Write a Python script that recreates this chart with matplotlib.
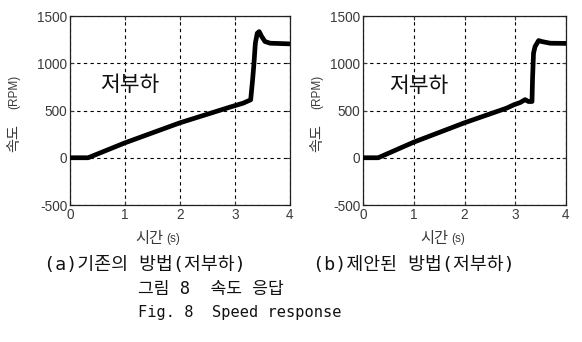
import matplotlib
matplotlib.use("Agg")
import matplotlib.pyplot as plt

plt.rcParams["axes.unicode_minus"] = False

# ---- data ----
t_a = [0, 0.33, 1.0, 2.0, 2.91, 3.15, 3.285, 3.32, 3.345, 3.37, 3.405, 3.44, 3.485, 3.545, 3.64, 4.0]
v_a = [0, 0, 158, 370, 536, 578, 613, 825, 1000, 1212, 1318, 1335, 1283, 1230, 1212, 1205]

t_b = [0, 0.30, 1.0, 2.0, 2.83, 2.97, 3.1, 3.195, 3.26, 3.33, 3.34, 3.36, 3.39, 3.46, 3.52, 3.69, 4.0]
v_b = [0, 0, 165, 370, 525, 560, 585, 615, 595, 595, 825, 1107, 1176, 1240, 1230, 1212, 1210]

x_ticks = [0, 1, 2, 3, 4]
y_ticks = [-500, 0, 500, 1000, 1500]
inner_label = "저부하"
ylabel_kr, ylabel_en = "속도", "(RPM)"
xlabel_kr, xlabel_en = "시간", "(s)"
captions = ["(a)기존의 방법(저부하)", "(b)제안된 방법(저부하)"]
fig_title_kr = "그림 8  속도 응답"
fig_title_en = "Fig. 8  Speed response"

KR = ["Noto Sans CJK KR", "DejaVu Sans"]
CAP = ["DejaVu Sans Mono", "Noto Sans CJK KR"]
TICK = ["Liberation Sans", "DejaVu Sans"]
tick_color = "#3a3a3a"

fig = plt.figure(figsize=(5.82, 3.42), dpi=100)

def make_axes(rect, t, v, label_xy, ylab_x):
    ax = fig.add_axes(rect)
    ax.plot(t, v, color="black", linewidth=3.4, solid_capstyle="butt", zorder=3)
    ax.set_xlim(0, 4)
    ax.set_ylim(-500, 1500)
    ax.set_xticks(x_ticks)
    ax.set_yticks(y_ticks)
    ax.tick_params(direction="in", length=3, colors=tick_color, labelsize=9.8,
                   top=True, right=True, pad=2)
    for lab in ax.get_xticklabels() + ax.get_yticklabels():
        lab.set_family(TICK)
        lab.set_color(tick_color)
    ax.grid(True, linestyle=(0, (3, 3)), color="black", linewidth=0.8)
    for s in ax.spines.values():
        s.set_color("#202020")
        s.set_linewidth(0.9)
    ax.text(label_xy[0], label_xy[1], inner_label, family=KR, fontsize=15.5,
            va="center", ha="left", color="#111111", zorder=4)
    x0 = ylab_x / 582
    fig.text(x0, 1 - 138 / 342, ylabel_kr, family=KR, fontsize=11, rotation=90,
             ha="center", va="center", color=tick_color)
    fig.text(x0, 1 - 92 / 342, ylabel_en, family=TICK, fontsize=8.5, rotation=90,
             ha="center", va="center", color=tick_color)
    return ax

ax1 = make_axes([70 / 582, 1 - 205 / 342, 220 / 582, 189 / 342], t_a, v_a, (0.55, 772), 14)
ax2 = make_axes([363 / 582, 1 - 205 / 342, 203 / 582, 189 / 342], t_b, v_b, (0.52, 760), 317)

# x labels
for cx in (162, 447):
    fig.text((cx + 1) / 582, 1 - 238 / 342, xlabel_kr, family=KR, fontsize=11,
             ha="right", va="center", color=tick_color)
    fig.text((cx + 4) / 582, 1 - 239 / 342, xlabel_en, family=TICK, fontsize=8.5,
             ha="left", va="center", color=tick_color)

# captions
fig.text(145 / 582, 1 - 265 / 342, captions[0], family=CAP, fontsize=13.2,
         ha="center", va="center", color="#111111")
fig.text(414 / 582, 1 - 265 / 342, captions[1], family=CAP, fontsize=13.2,
         ha="center", va="center", color="#111111")
fig.text(138 / 582, 1 - 289 / 342, fig_title_kr, family=CAP, fontsize=12.3,
         ha="left", va="center", color="#111111")
fig.text(138 / 582, 1 - 313 / 342, fig_title_en, family=["DejaVu Sans Mono"], fontsize=11.1,
         ha="left", va="center", color="#111111")

fig.savefig("out.png", dpi=100, facecolor="white")
